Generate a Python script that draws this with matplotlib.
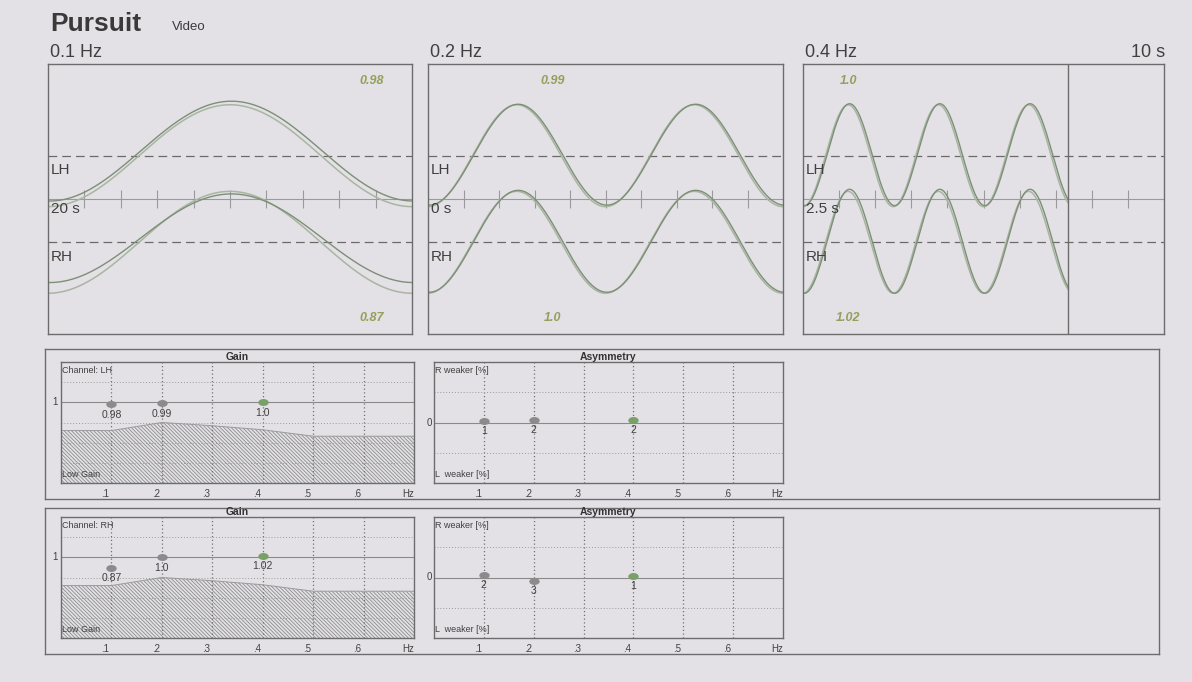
import numpy as np
import matplotlib
matplotlib.use("Agg")
import matplotlib.pyplot as plt
from matplotlib.path import Path
from matplotlib.transforms import Affine2D, blended_transform_factory

plt.rcParams['font.family'] = ['Liberation Sans', 'DejaVu Sans']
plt.rcParams['hatch.linewidth'] = 0.6

# pursuit test: one panel per stimulus frequency
freqs = [0.1, 0.2, 0.4]
freq_labels = ['0.1 Hz', '0.2 Hz', '0.4 Hz']
start_labels = ['20 s', '0 s', '2.5 s']
durations = [10.0, 10.0, 7.35]          # seconds recorded in each panel
gain_lh = [0.98, 0.99, 1.0]
gain_rh = [0.87, 1.0, 1.02]
gain_lh_text = ['0.98', '0.99', '1.0']
gain_rh_text = ['0.87', '1.0', '1.02']
offset_lh = [0.9, 0.2, 0.2]             # eye trace baseline shift, deg
offset_rh = [0.8, 0.2, 0.2]

# asymmetry per frequency [%]
asym_lh = [1, 2, 2]
asym_rh = [2, -3, 1]
asym_lh_text = ['1', '2', '2']
asym_rh_text = ['2', '3', '1']

# low gain limit (norm curve)
low_x = [0.0, 0.1, 0.2, 0.3, 0.4, 0.5, 0.7]
low_y = [0.65, 0.65, 0.75, 0.71, 0.66, 0.58, 0.58]
hz_ticks = [0.1, 0.2, 0.3, 0.4, 0.5, 0.6]
hz_tick_labels = ['.1', '.2', '.3', '.4', '.5', '.6']

AMP = 10.0      # stimulus amplitude, deg
CH_POS = 8.5    # channel baselines at +/- this
YLIM = 26.5

W, H = 1192, 682
BG = '#e3e1e6'
FRAME = '#6c6c6c'
TRACE_DARK = '#7d8f76'
TRACE_LIGHT = '#a9b5a3'
GAIN_TXT = '#93a05a'
DOT_GREY = '#8b8b8b'
DOT_GREEN = '#78a067'
TXT = '#404040'

fig = plt.figure(figsize=(W / 100, H / 100), dpi=100, facecolor=BG)


def px_axes(x0, y0, x1, y1, **kw):
    ax = fig.add_axes([x0 / W, 1 - y1 / H, (x1 - x0) / W, (y1 - y0) / H], **kw)
    ax.set_facecolor('none')
    ax.set_xticks([])
    ax.set_yticks([])
    for s in ax.spines.values():
        s.set_color(FRAME)
        s.set_linewidth(1.0)
    return ax


def ftext(x, y, s, **kw):
    fig.text(x / W, 1 - y / H, s, **kw)


ftext(50, 31, 'Pursuit', fontsize=19, fontweight='bold', color='#3a3a3a')
ftext(172, 30, 'Video', fontsize=9.5, color='#3a3a3a')

# --- traces ---
panel_x = [(48, 412), (428, 783), (803, 1164)]
for i, (x0, x1) in enumerate(panel_x):
    ax = px_axes(x0, 64, x1, 334)
    ax.set_xlim(0, 10)
    ax.set_ylim(-YLIM, YLIM)
    ftext(x0 + 2, 57, freq_labels[i], fontsize=13, color=TXT)

    # time axis with 1 s ticks
    ax.axhline(0, color='#9a9a9a', lw=0.8)
    ax.vlines(np.arange(1, 10), -1.7, 1.7, color='#9a9a9a', lw=0.8)
    for c in (CH_POS, -CH_POS):
        ax.axhline(c, color='#6a6a6a', lw=0.9, dashes=(7, 4))

    f = freqs[i]
    t = np.linspace(0, durations[i], 800)
    for c, g, off in ((CH_POS, gain_lh[i], offset_lh[i]),
                      (-CH_POS, gain_rh[i], offset_rh[i])):
        target = c - AMP * np.cos(2 * np.pi * f * t)
        eye = c + off - g * AMP * np.cos(2 * np.pi * f * (t - 0.04))
        ax.plot(t, target, color=TRACE_LIGHT, lw=1.1)
        ax.plot(t, eye, color=TRACE_DARK, lw=1.0)

    if durations[i] < 10:
        ax.axvline(durations[i], color=FRAME, lw=1.0)

    ax.text(0.08, 5.6, 'LH', fontsize=11, color=TXT, va='center')
    ax.text(0.08, -2.0, start_labels[i], fontsize=11, color=TXT, va='center')
    ax.text(0.08, -11.4, 'RH', fontsize=11, color=TXT, va='center')

    lx = [8.9, 3.5, 1.25][i]
    ax.text(lx, 23.1, gain_lh_text[i], fontsize=9, fontweight='bold',
            fontstyle='italic', color=GAIN_TXT, ha='center', va='center')
    ax.text(lx, -23.4, gain_rh_text[i], fontsize=9, fontweight='bold',
            fontstyle='italic', color=GAIN_TXT, ha='center', va='center')

ftext(1165, 57, '10 s', fontsize=13, color=TXT, ha='right')

# --- gain / asymmetry rows ---
oval = Path.unit_circle().transformed(Affine2D().scale(1.5, 1.0))
dot_colors = [DOT_GREY, DOT_GREY, DOT_GREEN]


def freq_axis(ax):
    ax.set_xlim(0, 0.7)
    for x in hz_ticks:
        ax.axvline(x, color='#707070', lw=0.9, ls=(0, (1, 2)))
    tr = blended_transform_factory(ax.transData, ax.transAxes)
    for x, s in zip(hz_ticks, hz_tick_labels):
        ax.text(x - 0.004, -0.05, s, transform=tr, fontsize=7, color=TXT,
                ha='right', va='top')
    ax.text(1.0, -0.05, 'Hz', transform=ax.transAxes, fontsize=7,
            color=TXT, ha='right', va='top')


rows = [(349, 499, 362, 483, 'LH', gain_lh, gain_lh_text, asym_lh, asym_lh_text),
        (508, 654, 517, 638, 'RH', gain_rh, gain_rh_text, asym_rh, asym_rh_text)]

for fy0, fy1, py0, py1, ch, gains, gtext, asym, atext in rows:
    px_axes(45, fy0, 1159, fy1)

    # gain
    ax = px_axes(61, py0, 414, py1)
    ax.set_ylim(0, 1.5)
    freq_axis(ax)
    for y in (0.25, 0.5, 0.75, 1.25):
        ax.axhline(y, color='#9a9a9a', lw=0.7, ls=(0, (1, 2)))
    ax.axhline(1.0, color='#8a8a8a', lw=0.8)
    ax.fill_between(low_x, 0, low_y, facecolor='none', edgecolor='#8c8c8c',
                    hatch='\\' * 9, lw=0)
    ax.plot(low_x, low_y, color='#9a9a9a', lw=0.7)
    for x, g, s, c in zip(freqs, gains, gtext, dot_colors):
        ax.plot(x, g, marker=oval, ms=7.5, color=c, mec='none')
        ax.text(x, g - 0.07, s, fontsize=7.5, color=TXT, ha='center', va='top')
    ax.text(0.003, 0.97, 'Channel: ' + ch, transform=ax.transAxes,
            fontsize=6.5, color=TXT, va='top')
    ax.text(0.003, 0.03, 'Low Gain', transform=ax.transAxes,
            fontsize=6.5, color=TXT, va='bottom')
    ax.text(-0.01, 1.0, '1', transform=blended_transform_factory(ax.transAxes, ax.transData),
            fontsize=7, color=TXT, ha='right', va='center')
    ax.set_title('Gain', fontsize=7.5, fontweight='bold', color='#333333', pad=1)

    # asymmetry
    ax = px_axes(434, py0, 783, py1)
    ax.set_ylim(-50, 50)
    freq_axis(ax)
    for y in (-25, 25):
        ax.axhline(y, color='#9a9a9a', lw=0.7, ls=(0, (1, 2)))
    ax.axhline(0, color='#8a8a8a', lw=0.8)
    for x, a, s, c in zip(freqs, asym, atext, dot_colors):
        ax.plot(x, a, marker=oval, ms=7.5, color=c, mec='none')
        ax.text(x, a - 4, s, fontsize=7.5, color=TXT, ha='center', va='top')
    ax.text(0.003, 0.97, 'R weaker [%]', transform=ax.transAxes,
            fontsize=6.5, color=TXT, va='top')
    ax.text(0.003, 0.03, 'L  weaker [%]', transform=ax.transAxes,
            fontsize=6.5, color=TXT, va='bottom')
    ax.text(-0.006, 0, '0', transform=blended_transform_factory(ax.transAxes, ax.transData),
            fontsize=7, color=TXT, ha='right', va='center')
    ax.set_title('Asymmetry', fontsize=7.5, fontweight='bold', color='#333333', pad=1)

fig.savefig('out.png', dpi=100, facecolor=BG)
